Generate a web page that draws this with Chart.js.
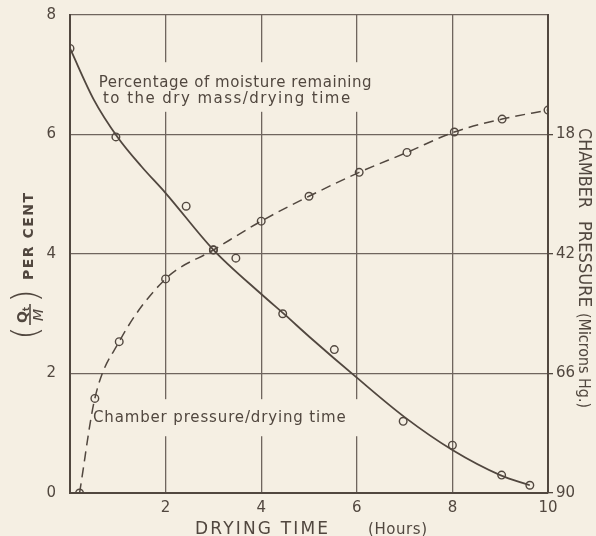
<!DOCTYPE html>
<html><head><meta charset="utf-8">
<script src="https://cdn.jsdelivr.net/npm/chart.js@4/dist/chart.umd.min.js"></script>
<style>html,body{margin:0;padding:0;background:#f5efe3;}canvas{display:block;}</style>
</head><body>
<canvas id="c" width="596" height="536"></canvas>
<script>
// ---- data ----
const timeTicks = [0, 2, 4, 6, 8, 10];
const moistureTicks = [0, 2, 4, 6, 8];
const pressureTicks = [18, 42, 66, 90];

const moistureObsTime = [0, 0.96, 2.43, 3.0, 3.47, 4.45, 5.53, 6.97, 8.0, 9.03, 9.62];
const moistureObs     = [7.44, 5.96, 4.80, 4.07, 3.93, 3.0, 2.40, 1.2, 0.80, 0.30, 0.13];

const moistureCurveTime = [0, 0.5, 1, 1.5, 2, 3, 4, 4.5, 5, 6, 7, 8, 9, 9.62];
const moistureCurve     = [7.44, 6.58, 5.95, 5.46, 5.02, 4.07, 3.33, 2.98, 2.62, 1.93, 1.27, 0.72, 0.30, 0.13];

const pressureTime = [0.2, 0.52, 1.03, 2.0, 3.0, 4.0, 5.0, 6.05, 7.05, 8.04, 9.04, 10.0];
const pressure     = [90, 71, 59.6, 47, 41.2, 35.4, 30.4, 25.6, 21.6, 17.5, 14.9, 13.1];

// ---- annotation text (positions in data units) ----
const noteLines = [
  {text: 'Percentage of moisture remaining', x0: 0.60, x1: 6.31, y: 6.795},
  {text: 'to the dry mass/drying time',      x0: 0.69, x1: 5.86, y: 6.53},
  {text: 'Chamber pressure/drying time',     x0: 0.48, x1: 5.77, y: 1.19}
];
const noteBoxes = [
  {x0: 0.46, x1: 6.44, y0: 6.38, y1: 7.21},
  {x0: 0.42, x1: 6.10, y0: 0.95, y1: 1.57}
];

// ---- styles ----
const BG = '#f5efe3';
const INK = '#51473f';
const GRID = '#6f655e';
const FONT = 'DejaVu Sans';

const toXY = (xs, ys) => xs.map((x, i) => ({x: x, y: ys[i]}));

function drawFit(ctx, text, x, y, w, font, mode) {
  ctx.font = font;
  ctx.textAlign = 'left';
  const nat = ctx.measureText(text).width;
  if (mode === 'space' && ('letterSpacing' in ctx)) {
    const sp = (w - nat) / (text.length - 1);
    ctx.letterSpacing = sp + 'px';
    ctx.fillText(text, x, y);
    ctx.letterSpacing = '0px';
  } else {
    ctx.save();
    ctx.translate(x, y);
    ctx.scale(w / nat, 1);
    ctx.fillText(text, 0, 0);
    ctx.restore();
  }
}

const notesPlugin = {
  id: 'notes',
  beforeDatasetsDraw(chart) {
    const ctx = chart.ctx, xs = chart.scales.x, ys = chart.scales.y;
    ctx.save();
    ctx.fillStyle = BG;
    noteBoxes.forEach(b => {
      const l = xs.getPixelForValue(b.x0), r = xs.getPixelForValue(b.x1);
      const t = ys.getPixelForValue(b.y1), bt = ys.getPixelForValue(b.y0);
      ctx.fillRect(l, t, r - l, bt - t);
    });
    ctx.fillStyle = INK;
    ctx.textBaseline = 'alphabetic';
    noteLines.forEach(n => {
      const l = xs.getPixelForValue(n.x0), r = xs.getPixelForValue(n.x1);
      drawFit(ctx, n.text, l, ys.getPixelForValue(n.y), r - l, '15px "' + FONT + '"', 'space');
    });
    ctx.restore();
  },
  afterDraw(chart) {
    const ctx = chart.ctx;
    ctx.save();
    ctx.fillStyle = INK;
    ctx.strokeStyle = INK;
    ctx.textBaseline = 'alphabetic';
    // x title
    drawFit(ctx, 'DRYING TIME', 195, 534, 133, '17px "' + FONT + '"', 'space');
    drawFit(ctx, '(Hours)', 368, 534, 59, '15px "' + FONT + '"', 'space');

    // left title (rotated -90deg): local lx = -screenY, ly = screenX
    ctx.save();
    ctx.rotate(-Math.PI / 2);
    drawFit(ctx, 'PER CENT', -280, 33, 87, 'bold 14px "' + FONT + '"', 'space');
    ctx.font = '200 36px "' + FONT + '"';
    ctx.textAlign = 'center';
    ctx.fillText('(', -333, 37);
    ctx.fillText(')', -296, 37);
    ctx.font = 'bold 14px "' + FONT + '"';
    ctx.textAlign = 'left';
    ctx.fillText('Q', -323, 27);
    ctx.font = 'bold 8px "' + FONT + '"';
    ctx.fillText('t', -311, 29);
    ctx.font = 'italic 14px "' + FONT + '"';
    ctx.textAlign = 'center';
    ctx.fillText('M', -315, 43);
    ctx.lineWidth = 1.6;
    ctx.beginPath();
    ctx.moveTo(-325, 30); ctx.lineTo(-304, 30);
    ctx.stroke();
    ctx.restore();

    // right title (rotated +90deg): local lx = screenY, ly = -screenX
    ctx.save();
    ctx.rotate(Math.PI / 2);
    drawFit(ctx, 'CHAMBER', 128, -579, 80, '18px "' + FONT + '"', 'scale');
    drawFit(ctx, 'PRESSURE', 221, -579, 86, '18px "' + FONT + '"', 'scale');
    drawFit(ctx, '(Microns Hg.)', 313, -579, 95, '16px "' + FONT + '"', 'scale');
    ctx.restore();
    ctx.restore();
  }
};

const bgPlugin = {
  id: 'bg',
  beforeDraw(chart) {
    const ctx = chart.ctx;
    ctx.save();
    ctx.fillStyle = BG;
    ctx.fillRect(0, 0, chart.width, chart.height);
    ctx.restore();
  }
};

const tickFont = {family: FONT, size: 15};
const noPadV = s => { s.paddingTop = 0; s.paddingBottom = 0; };

new Chart(document.getElementById('c'), {
  type: 'line',
  data: {
    datasets: [
      {
        label: 'moisture curve',
        data: toXY(moistureCurveTime, moistureCurve),
        yAxisID: 'y',
        borderColor: INK, borderWidth: 1.8,
        pointRadius: 0, cubicInterpolationMode: 'monotone', fill: false
      },
      {
        label: 'moisture observed',
        data: toXY(moistureObsTime, moistureObs),
        yAxisID: 'y', showLine: false,
        pointRadius: 3.8, pointBorderWidth: 1.4,
        pointBorderColor: INK, pointBackgroundColor: 'rgba(0,0,0,0)'
      },
      {
        label: 'chamber pressure',
        data: toXY(pressureTime, pressure),
        yAxisID: 'y2',
        borderColor: INK, borderWidth: 1.5, borderDash: [10, 6],
        cubicInterpolationMode: 'monotone', fill: false,
        pointRadius: 3.8, pointBorderWidth: 1.4,
        pointBorderColor: INK, pointBackgroundColor: 'rgba(0,0,0,0)'
      }
    ]
  },
  options: {
    responsive: false, animation: false, devicePixelRatio: 1,
    layout: {autoPadding: false, padding: {top: 15, left: 0, right: 0, bottom: 0}},
    plugins: {legend: {display: false}, tooltip: {enabled: false}},
    scales: {
      x: {
        type: 'linear', min: 0, max: 10,
        afterBuildTicks: s => { s.ticks = timeTicks.map(v => ({value: v})); },
        ticks: {callback: v => (v === 0 ? '' : String(v)), font: tickFont, color: INK, padding: 6, maxRotation: 0, autoSkip: false},
        grid: {color: GRID, lineWidth: 1.3, drawTicks: false},
        border: {color: INK, width: 2},
        afterFit: s => { s.height = 43; s.paddingLeft = 0; s.paddingRight = 0; }
      },
      y: {
        type: 'linear', position: 'left', min: 0, max: 8,
        afterBuildTicks: s => { s.ticks = moistureTicks.map(v => ({value: v})); },
        ticks: {font: tickFont, color: INK, padding: 14},
        grid: {color: GRID, lineWidth: 1.3, drawTicks: false},
        border: {color: INK, width: 2},
        afterFit: s => { s.width = 70; noPadV(s); }
      },
      y2: {
        type: 'linear', position: 'right', min: -6, max: 90, reverse: true,
        afterBuildTicks: s => { s.ticks = pressureTicks.map(v => ({value: v})); },
        ticks: {font: tickFont, color: INK, padding: 3},
        grid: {drawOnChartArea: false, drawTicks: true, tickLength: 5, color: INK, lineWidth: 1.3},
        border: {color: INK, width: 2},
        afterFit: s => { s.width = 48; noPadV(s); }
      }
    }
  },
  plugins: [bgPlugin, notesPlugin]
});
</script>
</body></html>
